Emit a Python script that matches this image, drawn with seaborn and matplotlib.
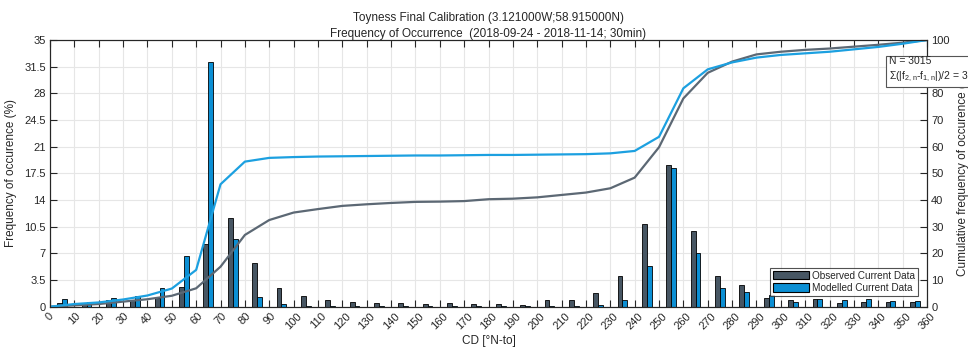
import pandas as pd
import seaborn as sns
import matplotlib.pyplot as plt
from matplotlib.patches import Patch

# bin centres of the 10 degree direction sectors
bin_centers = list(range(5, 360, 10))

observed = [0.45, 0.4, 0.88, 0.88, 1.2, 2.55, 8.2, 11.7, 5.78, 2.5,
            1.45, 0.88, 0.66, 0.45, 0.45, 0.35, 0.45, 0.35, 0.35, 0.2,
            0.88, 0.88, 1.75, 4.07, 10.9, 18.6, 9.9, 4.07, 2.85, 1.14,
            0.88, 0.97, 0.45, 0.6, 0.6, 0.6]
modelled = [0.97, 0.6, 1.1, 1.45, 2.4, 6.65, 32.1, 8.85, 1.23, 0.3,
            0.15, 0.1, 0.1, 0.15, 0.05, 0.1, 0.1, 0.1, 0.1, 0.1,
            0.1, 0.15, 0.25, 0.88, 5.4, 18.25, 7.0, 2.4, 1.9, 1.5,
            0.66, 1.05, 0.88, 0.97, 0.8, 0.8]

# cumulative curves, read at the sector edges
edges = list(range(0, 370, 10))
cum_observed = [0, 0.5, 1.0, 1.9, 2.8, 4.1, 6.9, 15.0, 26.9, 32.5,
                35.3, 36.6, 37.8, 38.4, 38.9, 39.3, 39.4, 39.6, 40.3, 40.5,
                41.0, 41.9, 42.8, 44.4, 48.4, 59.8, 78.1, 87.7, 91.9, 94.6,
                95.6, 96.3, 96.8, 97.5, 98.2, 99.0, 100]
cum_modelled = [0, 1.0, 1.6, 2.7, 4.2, 6.8, 13.8, 45.9, 54.4, 55.8,
                56.1, 56.3, 56.4, 56.5, 56.6, 56.7, 56.7, 56.8, 56.9, 56.9,
                57.0, 57.1, 57.2, 57.5, 58.4, 63.7, 81.9, 89.0, 91.6, 93.4,
                94.4, 95.0, 95.6, 96.5, 97.4, 98.6, 100]

series = ["Observed Current Data", "Modelled Current Data"]
bar_colors = ["#475663", "#0b8fd4"]
line_colors = ["#5c6874", "#1ca0e0"]

sns.set_theme(style="ticks")
plt.rcParams['font.family'] = ['Liberation Sans', 'DejaVu Sans']
dark = "#262626"

bars = pd.DataFrame({
    "CD": bin_centers * 2,
    "freq": observed + modelled,
    "series": [series[0]] * len(bin_centers) + [series[1]] * len(bin_centers),
})
cum = pd.DataFrame({
    "CD": edges * 2,
    "cum": cum_observed + cum_modelled,
    "series": [series[0]] * len(edges) + [series[1]] * len(edges),
})

fig = plt.figure(figsize=(9.68, 3.48), dpi=100)
ax = fig.add_axes([50 / 968, 1 - 306.7 / 348, 877 / 968, 266.7 / 348])

sns.barplot(data=bars, x="CD", y="freq", hue="series", hue_order=series,
            palette=bar_colors, native_scale=True, width=0.4, dodge=True,
            edgecolor="black", linewidth=0.6, saturation=1, legend=False, ax=ax)

ax.set_xlim(0, 360)
ax.set_ylim(0, 35)
ax.set_xticks(range(0, 361, 10))
ax.set_xticklabels([str(v) for v in range(0, 361, 10)], rotation=45, fontsize=8)
yt = [3.5 * i for i in range(11)]
ax.set_yticks(yt)
ax.set_yticklabels(["0", "3.5", "7", "10.5", "14", "17.5", "21", "24.5", "28", "31.5", "35"], fontsize=8)
ax.grid(True, color="#e6e6e6", linewidth=0.8)
ax.set_axisbelow(True)
ax.tick_params(direction="in", length=5, width=0.8, colors=dark, top=True, pad=3)
for s in ax.spines.values():
    s.set_color(dark)
    s.set_linewidth(0.8)
ax.set_xlabel("CD [°N-to]", fontsize=8.5, color=dark, labelpad=3)
ax.set_ylabel("Frequency of occurence (%)", fontsize=8.5, color=dark, labelpad=5)

ax2 = ax.twinx()
sns.lineplot(data=cum, x="CD", y="cum", hue="series", hue_order=series,
             palette=line_colors, linewidth=1.6, legend=False, ax=ax2)
ax2.set_ylim(0, 100)
ax2.set_xlim(0, 360)
ax2.set_yticks(range(0, 101, 10))
ax2.set_yticklabels([str(v) for v in range(0, 101, 10)], fontsize=8)
ax2.tick_params(direction="in", length=5, width=0.8, colors=dark, pad=3)
ax2.set_ylabel("Cumulative frequency of occurence (%)", fontsize=8.5, color=dark, labelpad=5)
for s in ax2.spines.values():
    s.set_color(dark)
    s.set_linewidth(0.8)

ax.set_title("Toyness Final Calibration (3.121000W;58.915000N)\n"
             "Frequency of Occurrence  (2018-09-24 - 2018-11-14; 30min)",
             fontsize=8.5, color=dark, pad=0, linespacing=1.45)

handles = [Patch(facecolor=c, edgecolor="black", linewidth=0.8) for c in bar_colors]
leg = ax2.legend(handles, series, loc="lower right", bbox_to_anchor=(0.99, 0.04),
                 fontsize=7.2, frameon=True, fancybox=False, handlelength=3.6,
                 handleheight=0.9, borderpad=0.3, labelspacing=0.25,
                 handletextpad=0.3, borderaxespad=0)
leg.get_frame().set_edgecolor(dark)
leg.get_frame().set_linewidth(0.8)

ax2.text(0.957, 0.94, "N = 3015\nΣ(|f$_\\mathregular{2,n}$-f$_\\mathregular{1,n}$|)/2 = 3",
         transform=ax2.transAxes, fontsize=7.5, color=dark, va="top", ha="left",
         linespacing=1.4, clip_on=False,
         bbox=dict(boxstyle="square,pad=0.3", facecolor="white", edgecolor="#555555", linewidth=0.8))

fig.savefig("out.png", dpi=100)
